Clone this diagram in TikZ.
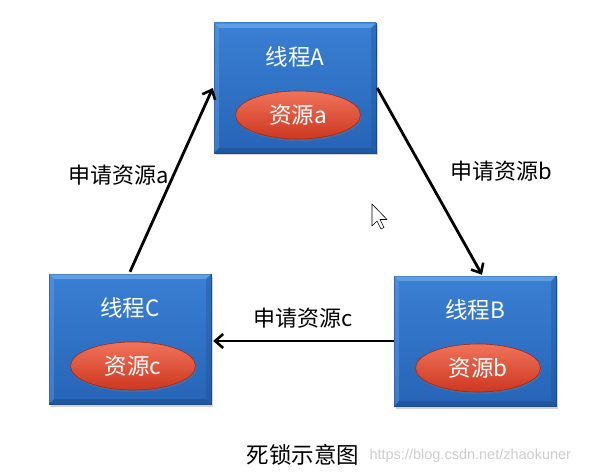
\documentclass[tikz,border=0pt]{standalone}
\usepackage{fontspec}
\setmainfont{Noto Sans CJK SC}
\newfontfamily\wmfont{Liberation Sans}
\usetikzlibrary{arrows.meta,calc,shadows,shapes.geometric}
\definecolor{boxtop}{RGB}{58,128,212}
\definecolor{boxbot}{RGB}{38,100,182}
\definecolor{bevlight}{RGB}{120,178,240}
\definecolor{bevdark}{RGB}{28,74,140}
\definecolor{restop}{RGB}{240,115,90}
\definecolor{resbot}{RGB}{205,55,32}
\definecolor{resedge}{RGB}{165,38,18}
\definecolor{wmgray}{RGB}{205,205,205}
\tikzset{
  threadbox/.style={rectangle, minimum width=162pt, minimum height=130pt, inner sep=0pt,
    top color=boxtop, bottom color=boxbot, draw=bevdark, line width=0.4pt,
    drop shadow={opacity=0.35, shadow xshift=1.5pt, shadow yshift=-2.5pt}},
  resell/.style={ellipse, minimum width=125pt, minimum height=48pt, inner sep=0pt,
    top color=restop, bottom color=resbot, draw=resedge, line width=0.6pt,
    drop shadow={opacity=0.3, shadow xshift=1pt, shadow yshift=-2pt}},
  boxlabel/.style={text=white, font=\fontsize{22.5}{22.5}\selectfont},
  reslabel/.style={text=white, font=\fontsize{22.5}{22.5}\selectfont},
  arrlabel/.style={text=black, font=\fontsize{22}{22}\selectfont},
  caplabel/.style={text=black, font=\fontsize{22.5}{22.5}\selectfont},
  arr/.style={draw=black, line width=2.8pt, -{Straight Barb[length=8pt,width=14pt,line width=2.6pt]}},
  bevelL/.style={fill=bevlight, opacity=0.6},
  bevelD/.style={fill=bevdark, opacity=0.5}
}
\newcommand{\mythread}[5]{%
  \node[threadbox] (#1) at (#2,#3) {};
  \fill[bevelL] (#1.north west) -- (#1.north east) -- ($(#1.north east)+(-5,5)$) -- ($(#1.north west)+(5,5)$) -- cycle;
  \fill[bevelL,opacity=0.3] (#1.north west) -- ($(#1.north west)+(5,5)$) -- ($(#1.south west)+(5,-5)$) -- (#1.south west) -- cycle;
  \fill[bevelD,opacity=0.3] (#1.north east) -- ($(#1.north east)+(-5,5)$) -- ($(#1.south east)+(-5,-5)$) -- (#1.south east) -- cycle;
  \fill[bevelD] (#1.south west) -- (#1.south east) -- ($(#1.south east)+(-5,-5)$) -- ($(#1.south west)+(5,-5)$) -- cycle;
  \node[boxlabel] (#1t) at ($(#1.center)+(0,-31)$) {线程#4};
  \node[resell] (#1r) at ($(#1.center)+(3,27)$) {};
  \node[reslabel] (#1rt) at (#1r.center) {资源#5};
}
\begin{document}
\begin{tikzpicture}[x=1pt,y=-1pt]
\useasboundingbox (0,0) rectangle (595,476);
\fill[white] (0,0) rectangle (595,476);
\mythread{A}{295}{88}{A}{a}
\mythread{B}{475}{341}{B}{b}
\mythread{C}{130}{339}{C}{c}
\draw[arr] ($(C.north)+(0,-2)$) -- ($(A.west)+(-1,0)$);
\draw[arr] ($(A.east)+(1,0)$) -- ($(B.north)+(7,-1)$);
\draw[arr] (B.west) -- ($(C.east |- B.west)+(2,0)$);
\node[arrlabel] (la) at (119,175) {申请资源a};
\node[arrlabel] (lb) at (501,171) {申请资源b};
\node[arrlabel] (lc) at (303,318) {申请资源c};
\node[caplabel, anchor=west] (cap) at (243,455) {死锁示意图};
\node[anchor=west, text=wmgray, font=\wmfont\fontsize{14.5}{14.5}\selectfont] (wm) at (366,456) {https://blog.csdn.net/zhaokuner};
\draw[black, fill=white, line width=0.6pt, line join=round] (372,204) -- (372,226) -- (377,221) -- (381,229) -- (384,227.5) -- (380,219.5) -- (387,219.5) -- cycle;
\end{tikzpicture}
\end{document}
